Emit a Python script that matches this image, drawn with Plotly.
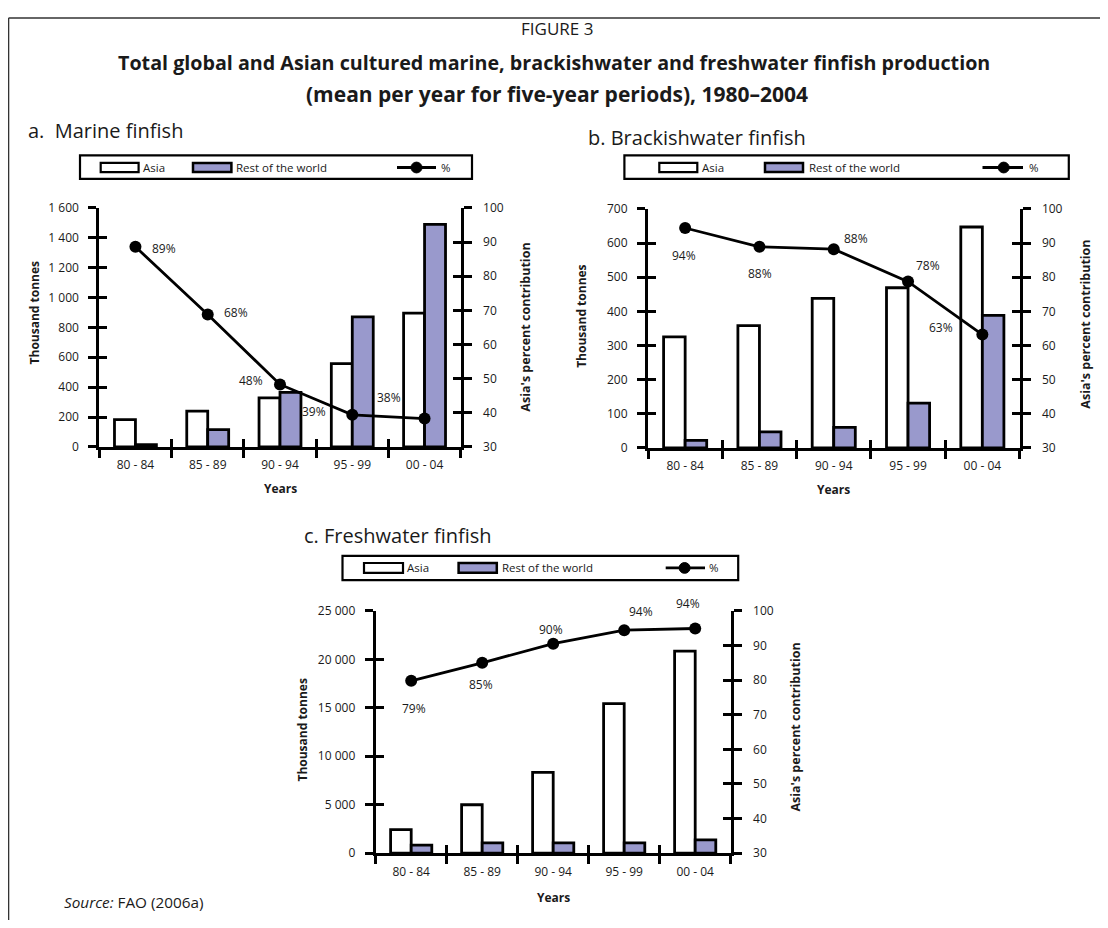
import plotly.graph_objects as go

# The page body keeps its default 8px margin, so the figure starts 8px in and is
# sized to reach the right and bottom edges of the 1108x928 window.
PAGE_W, PAGE_H = 1108, 928
OFF = 8
W, H = PAGE_W - OFF, PAGE_H - OFF
FONT = "Open Sans"
INK = "#1a1a1a"
ROW_FILL = "#9999cc"

# ---------------- data ----------------
periods = ["80 - 84", "85 - 89", "90 - 94", "95 - 99", "00 - 04"]

marine_asia = [183, 240, 328, 557, 896]
marine_row = [15, 116, 365, 870, 1490]
marine_pct = [88.6, 68.8, 48.3, 39.4, 38.3]
marine_pct_labels = ["89%", "68%", "48%", "39%", "38%"]

brackish_asia = [325, 358, 438, 469, 647]
brackish_row = [22, 47, 60, 131, 388]
brackish_pct = [94.4, 88.9, 88.2, 78.7, 63.2]
brackish_pct_labels = ["94%", "88%", "88%", "78%", "63%"]

fresh_asia = [2430, 5000, 8340, 15440, 20850]
fresh_row = [840, 1080, 1080, 1080, 1390]
fresh_pct = [79.8, 85.0, 90.5, 94.4, 94.9]
fresh_pct_labels = ["79%", "85%", "90%", "94%", "94%"]

left_ranges = [[0, 1600], [0, 700], [0, 25000]]
left_dticks = [200, 100, 5000]
right_range = [30, 100]
right_dtick = 10


def px(x):
    return (x - OFF) / W


def py(y):
    return 1 - (y - OFF) / H


panels = [
    dict(asia=marine_asia, row=marine_row, pct=marine_pct, labels=marine_pct_labels,
         x0=99.3, x1=460.7, ytop=202.5, ybot=446,
         shifts=[(29, -2), (28, 2), (-29, 4), (-38, 3), (-36, 21)],
         heading="a.  Marine finfish", head_xy=(26, 124),
         ltitle_xy=(34, 310), rtitle_xy=(526, 324.5), years_y=488,
         legend=dict(box=(80, 149, 472, 173), sy=(156.7, 166),
                     asia=(100.7, 138.6), asia_t=141, row=(193, 231.4), row_t=234,
                     line=(397, 436), mk=416.5, pct_t=439)),
    dict(asia=brackish_asia, row=brackish_row, pct=brackish_pct, labels=brackish_pct_labels,
         x0=648, x1=1019.5, ytop=203.5, ybot=447,
         shifts=[(-1, -27), (1, -27), (22, 11), (20, 16), (-41, 7)],
         heading="b. Brackishwater finfish", head_xy=(586, 131),
         ltitle_xy=(582, 313.5), rtitle_xy=(1086, 321.5), years_y=489,
         legend=dict(box=(624.4, 149, 1068.8, 173), sy=(156.7, 166),
                     asia=(659.3, 697.3), asia_t=699.8, row=(765, 803), row_t=806.5,
                     line=(982.5, 1023), mk=1003.7, pct_t=1026.6)),
    dict(asia=fresh_asia, row=fresh_row, pct=fresh_pct, labels=fresh_pct_labels,
         x0=375.7, x1=730.7, ytop=613, ybot=860,
         shifts=[(3, -28), (-1, -22), (-2, 14), (17, 19), (-7, 25)],
         heading="c. Freshwater finfish", head_xy=(302, 536),
         ltitle_xy=(303, 735), rtitle_xy=(796, 732), years_y=905,
         legend=dict(box=(342.5, 557, 738.2, 581.7), sy=(564.3, 574.3),
                     asia=(364, 403), asia_t=404.7, row=(458.6, 496.8), row_t=500.4,
                     line=(665.7, 705), mk=684.6, pct_t=706.9)),
]


def lk(a):
    return a[0] + "axis" + a[1:]


def note(x, y, text, size, xanchor="center", yanchor="middle", **kw):
    return dict(x=px(x), y=py(y), xref="paper", yref="paper", xanchor=xanchor,
                yanchor=yanchor, text=text, showarrow=False,
                font=dict(family=FONT, size=size, color=INK), **kw)


fig = go.Figure()
layout = {}
annotations = []
shapes = []

tickfont = dict(family=FONT, size=12, color=INK)

for i, p in enumerate(panels):
    xa = "x" if i == 0 else f"x{i + 1}"
    yl = "y" if i == 0 else f"y{2 * i + 1}"
    yr = f"y{2 * i + 2}"
    xo = f"x{i + 4}"
    ylo = f"y{2 * i + 7}"
    yro = f"y{2 * i + 8}"

    fig.add_trace(go.Bar(x=periods, y=p["asia"], xaxis=xa, yaxis=yl, name="Asia",
                         marker=dict(color="white", line=dict(color="black", width=2.8)),
                         showlegend=False))
    fig.add_trace(go.Bar(x=periods, y=p["row"], xaxis=xa, yaxis=yl, name="Rest of the world",
                         marker=dict(color=ROW_FILL, line=dict(color="black", width=2.8)),
                         showlegend=False))
    fig.add_trace(go.Scatter(x=periods, y=p["pct"], xaxis=xa, yaxis=yr, name="%",
                             mode="lines+markers", line=dict(color="black", width=2.8),
                             marker=dict(color="black", size=12), showlegend=False))
    # carrier traces for the inner half of the crossing tick marks
    fig.add_trace(go.Scatter(x=[None], y=[None], xaxis=xo, yaxis=yl, showlegend=False, hoverinfo="skip"))
    fig.add_trace(go.Scatter(x=[None], y=[None], xaxis=xa, yaxis=ylo, showlegend=False, hoverinfo="skip"))
    fig.add_trace(go.Scatter(x=[None], y=[None], xaxis=xa, yaxis=yro, showlegend=False, hoverinfo="skip"))

    xdom = [px(p["x0"]), px(p["x1"])]
    ydom = [py(p["ybot"]), py(p["ytop"])]
    common = dict(showgrid=False, zeroline=False, tickcolor="black", tickwidth=3,
                  ticklen=8, fixedrange=True)

    layout[lk(xa)] = dict(domain=xdom, anchor=yl, type="category", range=[-0.5, 4.5],
                          tickson="boundaries", ticks="outside", showline=True,
                          linewidth=3, linecolor="black", tickfont=tickfont,
                          ticklabelstandoff=5, **common)
    layout[lk(yl)] = dict(domain=ydom, anchor=xa, range=left_ranges[i], dtick=left_dticks[i],
                          tick0=0, ticks="outside", showline=True, linewidth=3,
                          linecolor="black", tickfont=tickfont, separatethousands=True,
                          exponentformat="none", ticklabelstandoff=7, **common)
    layout[lk(yr)] = dict(overlaying=yl, side="right", anchor=xa, range=right_range,
                          dtick=right_dtick, tick0=30, ticks="outside", showline=True,
                          linewidth=3, linecolor="black", tickfont=tickfont,
                          ticklabelstandoff=9, **common)
    layout[lk(xo)] = dict(overlaying=xa, anchor=yl, type="linear", range=[-0.5, 4.5],
                          tickvals=[-0.5, 0.5, 1.5, 2.5, 3.5, 4.5], ticks="inside",
                          showticklabels=False, showline=False, **common)
    layout[lk(ylo)] = dict(overlaying=yl, side="left", anchor=xa, range=left_ranges[i],
                           dtick=left_dticks[i], tick0=0, ticks="inside",
                           showticklabels=False, showline=False, **common)
    layout[lk(yro)] = dict(overlaying=yl, side="right", anchor=xa, range=right_range,
                           dtick=right_dtick, tick0=30, ticks="inside",
                           showticklabels=False, showline=False, **common)

    # percent labels
    for k in range(len(periods)):
        dx, dy = p["shifts"][k]
        annotations.append(dict(x=periods[k], y=p["pct"][k], xref=xa, yref=yr,
                                xanchor="center", yanchor="middle",
                                text=p["labels"][k], showarrow=False, xshift=dx, yshift=dy,
                                font=dict(family=FONT, size=12, color=INK)))

    hx, hy = p["head_xy"]
    annotations.append(note(hx, hy, p["heading"], 20, xanchor="left"))
    lx, ly = p["ltitle_xy"]
    annotations.append(note(lx, ly, "<b>Thousand tonnes</b>", 12, textangle=-90))
    rx, ry = p["rtitle_xy"]
    annotations.append(note(rx, ry, "<b>Asia's percent contribution</b>", 12.5, textangle=-90))
    annotations.append(note((p["x0"] + p["x1"]) / 2, p["years_y"], "<b>Years</b>", 12))

    # custom legend box
    L = p["legend"]
    bx0, by0, bx1, by1 = L["box"]
    shapes.append(dict(type="rect", xref="paper", yref="paper", x0=px(bx0), x1=px(bx1),
                       y0=py(by1), y1=py(by0), line=dict(color="black", width=2.2),
                       fillcolor="white", layer="above"))
    sy0, sy1 = L["sy"]
    shapes.append(dict(type="rect", xref="paper", yref="paper", x0=px(L["asia"][0]),
                       x1=px(L["asia"][1]), y0=py(sy1), y1=py(sy0),
                       line=dict(color="black", width=2.2), fillcolor="white", layer="above"))
    shapes.append(dict(type="rect", xref="paper", yref="paper", x0=px(L["row"][0]),
                       x1=px(L["row"][1]), y0=py(sy1), y1=py(sy0),
                       line=dict(color="black", width=2.5), fillcolor=ROW_FILL, layer="above"))
    cy = (sy0 + sy1) / 2
    shapes.append(dict(type="line", xref="paper", yref="paper", x0=px(L["line"][0]),
                       x1=px(L["line"][1]), y0=py(cy), y1=py(cy),
                       line=dict(color="black", width=2.8), layer="above"))
    r = 5.5
    shapes.append(dict(type="circle", xref="paper", yref="paper", x0=px(L["mk"] - r),
                       x1=px(L["mk"] + r), y0=py(cy + r), y1=py(cy - r),
                       line=dict(color="black", width=1), fillcolor="black", layer="above"))
    for tx, tt in ((L["asia_t"], "Asia"), (L["row_t"], "Rest of the world"), (L["pct_t"], "%")):
        annotations.append(note(tx, cy, tt, 11.5, xanchor="left"))

# figure titles
annotations.append(note(557, 20, "FIGURE 3", 17))
annotations.append(note(553.5, 54, "<b>Total global and Asian cultured marine, brackishwater and freshwater finfish production</b>", 19.7))
annotations.append(note(557, 86, "<b>(mean per year for five-year periods), 1980\u20132004</b>", 21))
annotations.append(note(62, 910, "<i>Source:</i> FAO (2006a)", 15.3, xanchor="left"))

# frame lines of the figure box (top and left edges)
shapes.append(dict(type="line", xref="paper", yref="paper", x0=0.0005, x1=1, y0=0.999, y1=0.999,
                   line=dict(color="#333333", width=1.5)))
shapes.append(dict(type="line", xref="paper", yref="paper", x0=0.0005, x1=0.0005, y0=0, y1=0.999,
                   line=dict(color="#333333", width=1.5)))

fig.update_layout(
    width=W, height=H, margin=dict(l=0, r=0, t=0, b=0),
    paper_bgcolor="white", plot_bgcolor="rgba(0,0,0,0)",
    barmode="group", bargap=0.42, bargroupgap=0,
    separators=". ",
    font=dict(family=FONT, size=11, color=INK),
    showlegend=False,
    annotations=annotations, shapes=shapes,
    **layout,
)

fig.write_html("out.html")
